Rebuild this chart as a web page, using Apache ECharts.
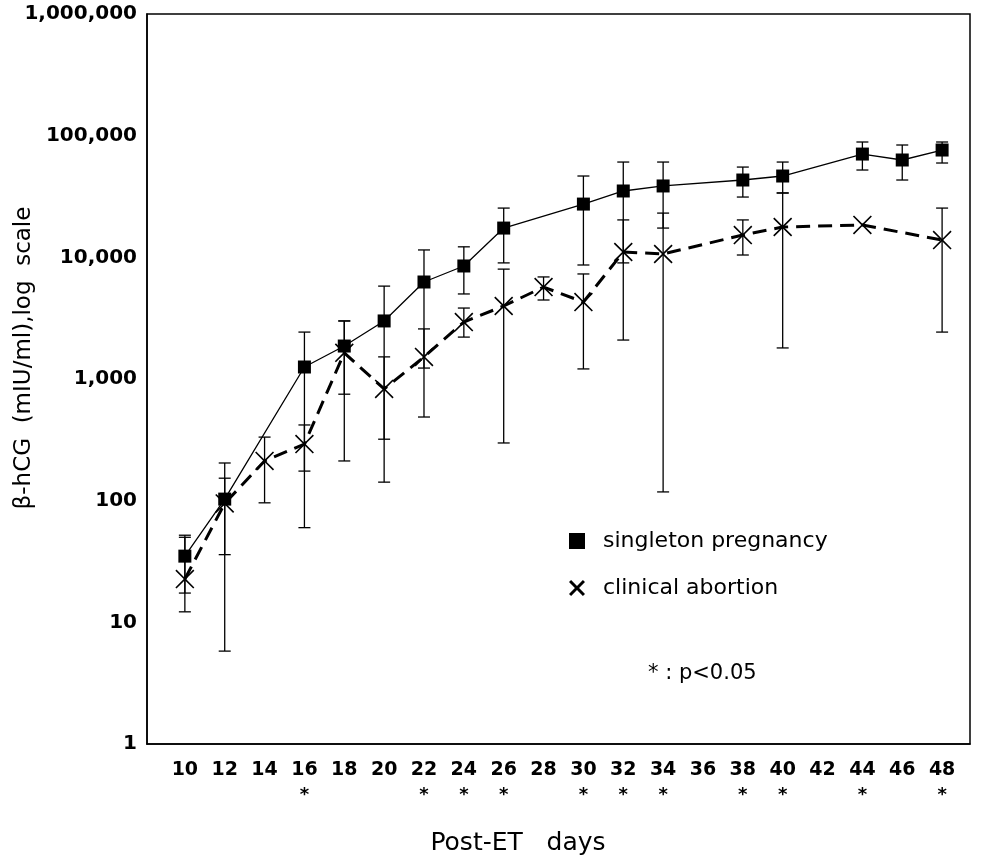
<!DOCTYPE html>
<html>
<head>
<meta charset="utf-8">
<script src="https://cdn.jsdelivr.net/npm/echarts@6/dist/echarts.min.js"></script>
<style>
  html, body { margin: 0; background: #fff; }
  #chart { width: 981px; height: 859px; }
</style>
</head>
<body>
<div id="chart"></div>
<script>
// post-ET days shown on the x axis
const days = [10, 12, 14, 16, 18, 20, 22, 24, 26, 28, 30, 32, 34, 36, 38, 40, 42, 44, 46, 48];
// days marked with * (p<0.05)
const sigDays = [16, 22, 24, 26, 30, 32, 34, 38, 40, 44, 48];

// singleton pregnancy: mean, upper and lower ends of the error bars (mIU/ml)
const singletonMean = [35, 103, null, 1255, 1866, 3000, 6270, 8490, 17400, null, 27400, 35100, 38600, null, 43200, 46600, null, 70600, 63100, 76200];
const singletonHi   = [52, 153, null, 2430, 3000, 5800, 11500, 12200, 25400, null, 46600, 60700, 60700, null, 55200, 60700, null, 88700, 83800, 88700];
const singletonLo   = [17.4, 36, null, 60, 750, 320, 1230, 5000, 9000, null, 8650, 9000, 17400, null, 31300, 33800, null, 52200, 43200, 59600];

// clinical abortion
const abortionMean = [22.7, 95, 212, 292, 1640, 828, 1520, 2940, 3980, 5700, 4290, 11060, 10650, null, 15250, 17750, null, 18450, null, 13870];
const abortionHi   = [50, 204, 333, 419, 3000, 1520, 2580, 3830, 8000, 6900, 7300, 20300, 23100, null, 20300, 33800, null, null, null, 25400];
const abortionLo   = [12.2, 5.8, 96, 175, 212, 142, 487, 2210, 298, 4460, 1210, 2090, 118, null, 10450, 1800, null, null, null, 2430];

const yTicks = [1, 10, 100, 1000, 10000, 100000, 1000000];

function points(vals) {
  const out = [];
  days.forEach((d, i) => { if (vals[i] != null) out.push([d, vals[i]]); });
  return out;
}
function bars(lo, hi) {
  const out = [];
  days.forEach((d, i) => { if (lo[i] != null && hi[i] != null) out.push([d, lo[i], hi[i]]); });
  return out;
}

function errorBar(params, api) {
  const x = api.value(0);
  const bot = api.coord([x, api.value(1)]);
  const top = api.coord([x, api.value(2)]);
  const half = 6;
  const style = { stroke: '#000', lineWidth: 1.3 };
  return {
    type: 'group',
    children: [
      { type: 'line', shape: { x1: top[0], y1: top[1], x2: bot[0], y2: bot[1] }, style: style },
      { type: 'line', shape: { x1: top[0] - half, y1: top[1], x2: top[0] + half, y2: top[1] }, style: style },
      { type: 'line', shape: { x1: bot[0] - half, y1: bot[1], x2: bot[0] + half, y2: bot[1] }, style: style }
    ]
  };
}

const crossSymbol = 'path://M0,6L6,0L50,44L94,0L100,6L56,50L100,94L94,100L50,56L6,100L0,94L44,50Z';
const crossIcon = 'path://M0,13L13,0L50,37L87,0L100,13L63,50L100,87L87,100L50,63L13,100L0,87L37,50Z';

function commas(v) {
  return String(Math.round(v)).replace(/\B(?=(\d{3})+(?!\d))/g, ',');
}

const chart = echarts.init(document.getElementById('chart'));
chart.setOption({
  animation: false,
  backgroundColor: '#fff',
  grid: {
    left: 147, right: 11, top: 14, bottom: 115,
    show: true, borderColor: '#000', borderWidth: 1.5
  },
  xAxis: {
    type: 'value',
    min: 8.1,
    max: 49.4,
    axisLine: { show: true, lineStyle: { color: '#000', width: 1.5 } },
    axisTick: { show: false },
    splitLine: { show: false },
    axisLabel: {
      customValues: days,
      margin: 14,
      formatter: v => sigDays.indexOf(v) >= 0 ? '{n|' + v + '}\n{s|*}' : '{n|' + v + '}',
      rich: {
        n: { fontFamily: 'DejaVu Sans', fontWeight: 'bold', fontSize: 19, lineHeight: 24, color: '#000' },
        s: { fontFamily: 'DejaVu Sans', fontWeight: 'bold', fontSize: 18, lineHeight: 26, color: '#000' }
      }
    }
  },
  yAxis: {
    type: 'log',
    logBase: 10,
    min: 1,
    max: 1000000,
    axisLine: { show: true, lineStyle: { color: '#000', width: 1.5 } },
    axisTick: { show: false },
    splitLine: { show: false },
    axisLabel: {
      customValues: yTicks,
      margin: 10,
      formatter: commas,
      fontFamily: 'DejaVu Sans',
      fontWeight: 'bold',
      fontSize: 20,
      color: '#000'
    }
  },
  legend: {
    orient: 'vertical',
    left: 564,
    top: 525,
    itemWidth: 16,
    itemHeight: 16,
    itemGap: 25,
    selectedMode: false,
    textStyle: { fontFamily: 'DejaVu Sans', fontSize: 22, color: '#000', padding: [0, 0, 0, 13] },
    data: [
      { name: 'singleton pregnancy', icon: 'rect', itemStyle: { color: '#000' } },
      { name: 'clinical abortion', icon: crossIcon, itemStyle: { color: '#000' } }
    ]
  },
  graphic: [
    {
      type: 'text', x: 24, y: 358, rotation: Math.PI / 2,
      style: {
        text: 'β-hCG  (mIU/ml),log  scale',
        fontFamily: 'DejaVu Sans', fontSize: 23, fill: '#000',
        align: 'center', verticalAlign: 'middle'
      }
    },
    {
      type: 'text', x: 518, y: 843,
      style: {
        text: 'Post-ET   days',
        fontFamily: 'DejaVu Sans', fontSize: 25, fill: '#000',
        align: 'center', verticalAlign: 'middle'
      }
    },
    {
      type: 'text', x: 648, y: 674,
      style: {
        text: '* : p<0.05',
        fontFamily: 'DejaVu Sans', fontSize: 21, fill: '#000',
        align: 'left', verticalAlign: 'middle'
      }
    }
  ],
  series: [
    {
      name: 'singleton bars',
      type: 'custom',
      renderItem: errorBar,
      encode: { x: 0, y: [1, 2] },
      data: bars(singletonLo, singletonHi),
      z: 1
    },
    {
      name: 'abortion bars',
      type: 'custom',
      renderItem: errorBar,
      encode: { x: 0, y: [1, 2] },
      data: bars(abortionLo, abortionHi),
      z: 1
    },
    {
      name: 'clinical abortion',
      type: 'line',
      data: points(abortionMean),
      symbol: crossSymbol,
      symbolSize: 19,
      itemStyle: { color: '#000' },
      lineStyle: { color: '#000', width: 3, type: [14, 8] },
      z: 3
    },
    {
      name: 'singleton pregnancy',
      type: 'line',
      data: points(singletonMean),
      symbol: 'rect',
      symbolSize: 13,
      itemStyle: { color: '#000' },
      lineStyle: { color: '#000', width: 1.3 },
      z: 4
    }
  ]
});
</script>
</body>
</html>
